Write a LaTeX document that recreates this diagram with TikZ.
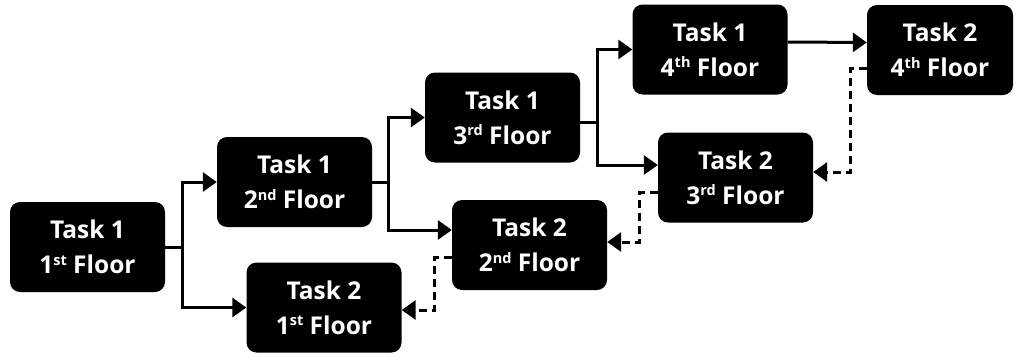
\documentclass[tikz,border=0pt]{standalone}
\usepackage{fontspec}
\setmainfont{Open Sans}
\usetikzlibrary{arrows.meta}
\newcommand{\flsup}[1]{\raisebox{8.5pt}{\fontsize{14.5}{14.5}\selectfont #1}}
\begin{document}
\begin{tikzpicture}[x=1pt,y=-1pt,
  task/.style={fill=black,text=white,rounded corners=10pt,minimum width=155pt,minimum height=90pt,
    align=center,inner sep=0pt,font=\fontsize{24.5}{35}\selectfont\bfseries},
  conn/.style={line width=3pt,-{Triangle[length=14pt,width=19pt]}},
  dconn/.style={conn,dash pattern=on 8pt off 5pt}]
\useasboundingbox (0,0) rectangle (1016,356);
\node[task] (t11) at (87.5,247) {Task 1\\1\flsup{st} Floor};
\node[task] (t12) at (294.5,182) {Task 1\\2\flsup{nd} Floor};
\node[task] (t13) at (502.5,117.5) {Task 1\\3\flsup{rd} Floor};
\node[task] (t14) at (710,49.5) {Task 1\\4\flsup{th} Floor};
\node[task] (t21) at (324,307.5) {Task 2\\1\flsup{st} Floor};
\node[task] (t22) at (529.5,245) {Task 2\\2\flsup{nd} Floor};
\node[task] (t23) at (735.5,177.5) {Task 2\\3\flsup{rd} Floor};
\node[task,minimum width=146pt] (t24) at (940,50) {Task 2\\4\flsup{th} Floor};
% solid connectors
\draw[conn] (t11.east) -- ++(17,0) coordinate (j1) |- (t12.west);
\draw[conn] (j1) |- (t21.west);
\draw[conn] (t12.east) -- ++(16,0) coordinate (j2) |- (t13.west);
\draw[conn] (j2) |- ([yshift=15pt]t22.west);
\draw[conn] ([yshift=-5pt]t13.east) -- ++(17,0) coordinate (j3) |- (t14.west);
\draw[conn] (j3) |- ([yshift=12.5pt]t23.west);
\draw[conn] ([yshift=7.5pt]t14.east) -- ([yshift=7.5pt]t24.west);
% dashed connectors
\draw[dconn] ([yshift=-18pt]t24.west) -- ++(-16,0) |- ([yshift=5.5pt]t23.east);
\draw[dconn] ([yshift=-14.5pt]t23.west) -- ++(-18,0) |- ([yshift=3pt]t22.east);
\draw[dconn] ([yshift=-12pt]t22.west) -- ++(-17,0) |- ([yshift=-2.5pt]t21.east);
\end{tikzpicture}
\end{document}
